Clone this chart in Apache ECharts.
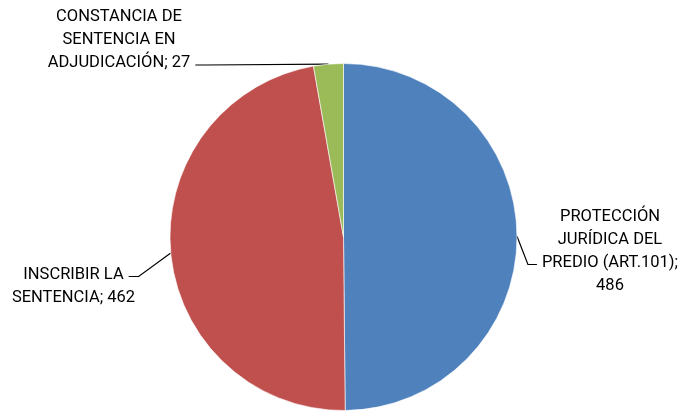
<!DOCTYPE html>
<html>
<head>
<meta charset="utf-8">
<script src="https://cdn.jsdelivr.net/npm/echarts@6/dist/echarts.min.js"></script>
<style>
  html, body { margin: 0; padding: 0; background: #ffffff; }
  #chart { width: 686px; height: 411px; }
</style>
</head>
<body>
<div id="chart"></div>
<script>
// ---- data ----
const categories = [
  'PROTECCIÓN\nJURÍDICA DEL\nPREDIO (ART.101)',
  'INSCRIBIR LA\nSENTENCIA',
  'CONSTANCIA DE\nSENTENCIA EN\nADJUDICACIÓN'
];
const values = [486, 462, 27];

// ---- styling / layout config ----
const colors = ['#4F81BD', '#C0504D', '#9BBB59'];
const valueOnNewLine = [true, false, false];
const FONT_SIZE = 16.5;
const FONT_FAMILY = 'Roboto';
const LINE_H = 23;
const labelPlacement = [
  { x: 610, y: 251, attachLine: 2, side: 'left' },
  { x: 73.5, y: 286, attachLine: 0, side: 'right' },
  { x: 119, y: 40, attachLine: 2, side: 'right' }
];

const measureCtx = document.createElement('canvas').getContext('2d');
function textWidth(s) {
  measureCtx.font = FONT_SIZE + 'px ' + FONT_FAMILY;
  return measureCtx.measureText(s).width;
}

const chart = echarts.init(document.getElementById('chart'), null, { renderer: 'canvas' });

chart.setOption({
  animation: false,
  backgroundColor: '#ffffff',
  series: [{
    type: 'pie',
    center: [343.5, 237],
    radius: 173.5,
    startAngle: 90,
    clockwise: true,
    avoidLabelOverlap: false,
    data: categories.map((c, i) => ({
      name: c,
      value: values[i],
      itemStyle: { color: colors[i] }
    })),
    itemStyle: { borderColor: '#ffffff', borderWidth: 0.6 },
    label: {
      show: true,
      position: 'outside',
      color: '#000000',
      fontFamily: FONT_FAMILY,
      fontSize: FONT_SIZE,
      lineHeight: LINE_H,
      align: 'center',
      formatter: function (p) {
        return p.name + ';' + (valueOnNewLine[p.dataIndex] ? '\n' : ' ') + p.value;
      }
    },
    labelLine: {
      show: true,
      length: 10,
      length2: 10,
      lineStyle: { color: '#000000', width: 1.2 }
    },
    labelLayout: function (params) {
      const p = labelPlacement[params.dataIndex];
      const lines = params.text.split('\n');
      const n = lines.length;
      const lineY = p.y + (p.attachLine - (n - 1) / 2) * LINE_H + 2;
      const w = textWidth(lines[p.attachLine]);
      const endX = p.side === 'left' ? p.x - w / 2 - 5 : p.x + w / 2 + 5;
      const kneeX = p.side === 'left' ? endX - 9 : endX + 10;
      const p0 = params.labelLinePoints ? params.labelLinePoints[0] : [kneeX, lineY];
      return {
        x: p.x,
        y: p.y,
        align: 'center',
        verticalAlign: 'middle',
        labelLinePoints: [p0, [kneeX, lineY], [endX, lineY]]
      };
    }
  }]
});
</script>
</body>
</html>
